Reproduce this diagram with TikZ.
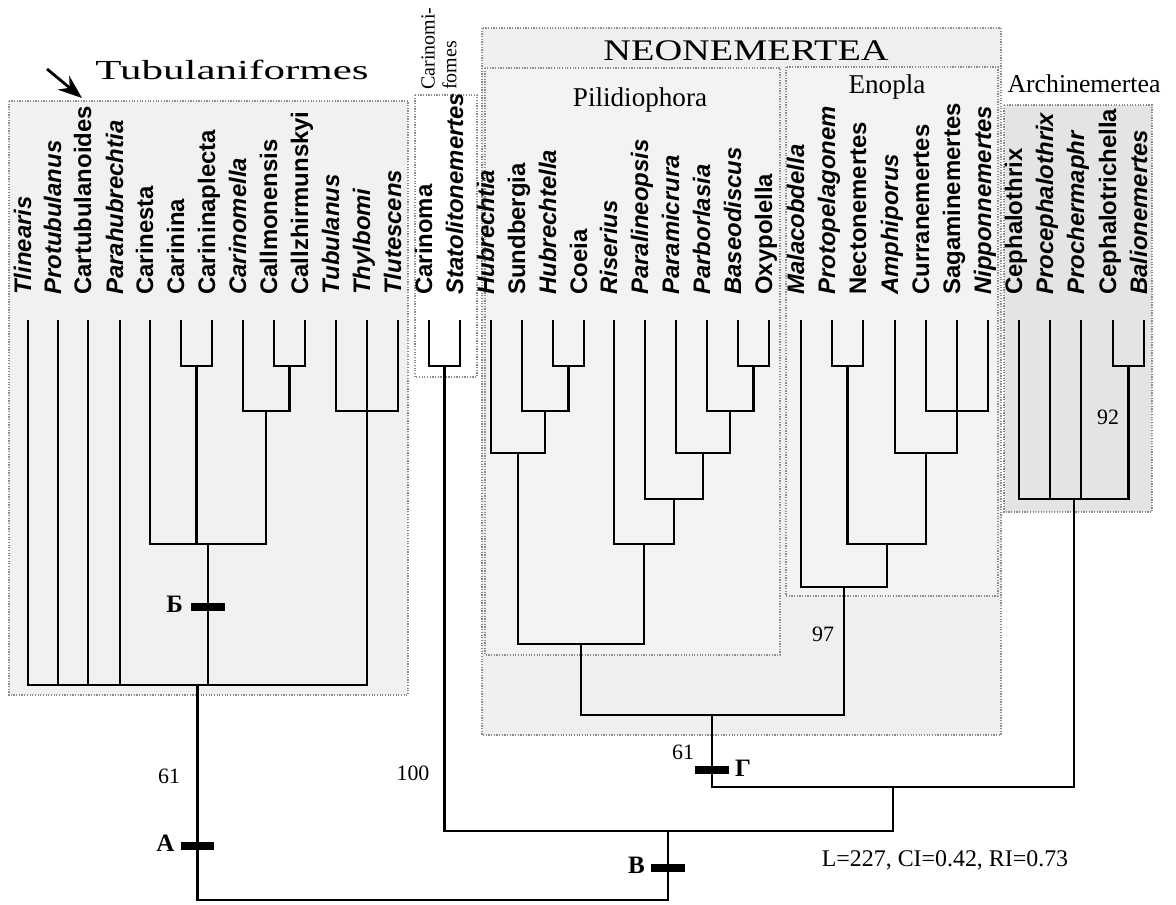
\documentclass[tikz,border=0pt]{standalone}
\usepackage{fontspec}
\setmainfont{Liberation Serif}
\setsansfont{Liberation Sans}
\usepackage{graphicx}
\usetikzlibrary{positioning,arrows.meta}

\definecolor{tubfill}{HTML}{F1F1F1}
\definecolor{neofill}{HTML}{EFEFEF}
\definecolor{subfill}{HTML}{F3F3F3}
\definecolor{arcfill}{HTML}{E4E4E4}
\definecolor{framegray}{HTML}{8C8C8C}

\begin{document}
\begin{tikzpicture}[
    x=0.025cm,y=-0.025cm,
    grpbox/.style={draw=framegray,densely dotted,line width=0.9pt},
    elbow/.style={draw,line width=2.1pt,to path={-| (\tikztotarget) \tikztonodes}},
    taxon/.style={rotate=90,anchor=mid west,inner sep=0pt,font=\sffamily\bfseries\itshape\fontsize{17}{18}\selectfont},
    taxonup/.style={taxon,font=\sffamily\bfseries\fontsize{17}{18}\selectfont},
    grptitle/.style={anchor=base,inner sep=0pt,font=\fontsize{19.3}{20}\selectfont},
    support/.style={inner sep=0pt,font=\fontsize{15.6}{16}\selectfont},
    apobar/.style={fill=black,inner sep=0pt,minimum width=0.83cm,minimum height=0.22cm},
    apolab/.style={inner sep=0pt,font=\bfseries\fontsize{17.8}{18}\selectfont}
  ]
  \useasboundingbox (0,0) rectangle (1176,904);

  % group frames
  \filldraw[grpbox,fill=tubfill] (9,101) rectangle (408,695);
  \filldraw[grpbox,fill=white] (415,95) rectangle (477,377);
  \filldraw[grpbox,fill=neofill] (482,28) rectangle (1001,735);
  \filldraw[grpbox,fill=subfill] (485,68) rectangle (780,655);
  \filldraw[grpbox,fill=subfill] (786,67) rectangle (998,596);
  \filldraw[grpbox,fill=arcfill] (1004,105) rectangle (1152,512);

  % group names
  \node[grptitle] (tubname) at (232,79) {\scalebox{1.56}[1]{\fontsize{19.6}{20}\selectfont Tubulaniformes}};
  \node[grptitle] (neoname) at (746,60) {\scalebox{1.28}[1]{\fontsize{21.3}{22}\selectfont NEONEMERTEA}};
  \node[grptitle] (pilname) at (640,106) {Pilidiophora};
  \node[grptitle] (enoname) at (887,93) {Enopla};
  \node[grptitle,font=\fontsize{18.3}{20}\selectfont] (arcname) at (1084,92) {Archinemertea};
  \node[rotate=90,anchor=west,align=left,inner sep=0pt,font=\fontsize{14.2}{15.6}\selectfont] (carname) at (439,90) {Carinomi-\\fomes};
  \coordinate (arrtail) at (47,69);
  \coordinate (arrtip) at (82,98);
  \draw[-{Stealth[length=0.6cm,width=0.45cm,inset=0.2cm]},line width=2pt] (arrtail) -- (arrtip);

  % leaves
  \node[taxon] (n0) at (28,295) {Tlinearis}; \coordinate (l0) at (28,320);
  \node[taxon] (n1) at (58,295) {Protubulanus}; \coordinate (l1) at (58,320);
  \node[taxonup] (n2) at (88,295) {Cartubulanoides}; \coordinate (l2) at (88,320);
  \node[taxon] (n3) at (120,295) {Parahubrechtia}; \coordinate (l3) at (120,320);
  \node[taxonup] (n4) at (150,295) {Carinesta}; \coordinate (l4) at (150,320);
  \node[taxonup] (n5) at (181,295) {Carinina}; \coordinate (l5) at (181,320);
  \node[taxonup] (n6) at (212,295) {Carininaplecta}; \coordinate (l6) at (212,320);
  \node[taxon] (n7) at (243,295) {Carinomella}; \coordinate (l7) at (243,320);
  \node[taxonup] (n8) at (274,295) {Callmonensis}; \coordinate (l8) at (274,320);
  \node[taxonup] (n9) at (305,295) {Callzhirmunskyi}; \coordinate (l9) at (305,320);
  \node[taxon] (n10) at (336,295) {Tubulanus}; \coordinate (l10) at (336,320);
  \node[taxon] (n11) at (367,295) {Thylbomi}; \coordinate (l11) at (367,320);
  \node[taxon] (n12) at (398,295) {Tlutescens}; \coordinate (l12) at (398,320);
  \node[taxonup] (n13) at (429,295) {Carinoma}; \coordinate (l13) at (429,320);
  \node[taxon] (n14) at (460,295) {Statolitonemertes}; \coordinate (l14) at (460,320);
  \node[taxon] (n15) at (491,295) {Hubrechtia}; \coordinate (l15) at (491,320);
  \node[taxonup] (n16) at (522,295) {Sundbergia}; \coordinate (l16) at (522,320);
  \node[taxon] (n17) at (553,295) {Hubrechtella}; \coordinate (l17) at (553,320);
  \node[taxonup] (n18) at (584,295) {Coeia}; \coordinate (l18) at (584,320);
  \node[taxon] (n19) at (614,295) {Riserius}; \coordinate (l19) at (614,320);
  \node[taxon] (n20) at (645,295) {Paralineopsis}; \coordinate (l20) at (645,320);
  \node[taxon] (n21) at (676,295) {Paramicrura}; \coordinate (l21) at (676,320);
  \node[taxon] (n22) at (707,295) {Parborlasia}; \coordinate (l22) at (707,320);
  \node[taxon] (n23) at (738,295) {Baseodiscus}; \coordinate (l23) at (738,320);
  \node[taxonup] (n24) at (769,295) {Oxypolella}; \coordinate (l24) at (769,320);
  \node[taxon] (n25) at (801,295) {Malacobdella}; \coordinate (l25) at (801,320);
  \node[taxon] (n26) at (832,295) {Protopelagonem}; \coordinate (l26) at (832,320);
  \node[taxonup] (n27) at (863,295) {Nectonemertes}; \coordinate (l27) at (863,320);
  \node[taxon] (n28) at (895,295) {Amphiporus}; \coordinate (l28) at (895,320);
  \node[taxonup] (n29) at (926,295) {Curranemertes}; \coordinate (l29) at (926,320);
  \node[taxonup] (n30) at (957,295) {Sagaminemertes}; \coordinate (l30) at (957,320);
  \node[taxon] (n31) at (988,295) {Nipponnemertes}; \coordinate (l31) at (988,320);
  \node[taxonup] (n32) at (1019,295) {Cephalothrix}; \coordinate (l32) at (1019,320);
  \node[taxon] (n33) at (1050,295) {Procephalothrix}; \coordinate (l33) at (1050,320);
  \node[taxon] (n34) at (1081,295) {Prochermaphr}; \coordinate (l34) at (1081,320);
  \node[taxonup] (n35) at (1113,295) {Cephalotrichella}; \coordinate (l35) at (1113,320);
  \node[taxon] (n36) at (1144,295) {Balionemertes}; \coordinate (l36) at (1144,320);

  % inner nodes
  \coordinate (tA) at (196.5,366); \coordinate (tB) at (289.5,366);
  \coordinate (tC) at (266,411); \coordinate (tD) at (208,544);
  \coordinate (tE) at (367,411); \coordinate (tub) at (197.5,685);
  \coordinate (car) at (444.5,366);
  \coordinate (pA) at (568.5,366); \coordinate (pB) at (545,411);
  \coordinate (pC) at (518,453); \coordinate (pD) at (753.5,366);
  \coordinate (pE) at (730,411); \coordinate (pF) at (703,453);
  \coordinate (pG) at (674,499); \coordinate (pH) at (644,544);
  \coordinate (pil) at (581,644);
  \coordinate (eA) at (847.5,366); \coordinate (eB) at (957,411);
  \coordinate (eC) at (926,453); \coordinate (eD) at (887,544);
  \coordinate (eno) at (844,587); \coordinate (neo) at (712,715);
  \coordinate (aA) at (1128.5,366); \coordinate (arc) at (1074,499);
  \coordinate (neoarc) at (893,787); \coordinate (carneo) at (668,831);
  \coordinate (root) at (433,900);

  % branches
  \path (tA) edge[elbow] (l5) edge[elbow] (l6)
        (tB) edge[elbow] (l8) edge[elbow] (l9)
        (tC) edge[elbow] (l7) edge[elbow] (tB)
        (tD) edge[elbow] (l4) edge[elbow] (tA) edge[elbow] (tC)
        (tE) edge[elbow] (l10) edge[elbow] (l11) edge[elbow] (l12)
        (tub) edge[elbow] (l0) edge[elbow] (l1) edge[elbow] (l2)
              edge[elbow] (l3) edge[elbow] (tD) edge[elbow] (tE);
  \path (car) edge[elbow] (l13) edge[elbow] (l14);
  \path (pA) edge[elbow] (l17) edge[elbow] (l18)
        (pB) edge[elbow] (l16) edge[elbow] (pA)
        (pC) edge[elbow] (l15) edge[elbow] (pB)
        (pD) edge[elbow] (l23) edge[elbow] (l24)
        (pE) edge[elbow] (l22) edge[elbow] (pD)
        (pF) edge[elbow] (l21) edge[elbow] (pE)
        (pG) edge[elbow] (l20) edge[elbow] (pF)
        (pH) edge[elbow] (l19) edge[elbow] (pG)
        (pil) edge[elbow] (pC) edge[elbow] (pH);
  \path (eA) edge[elbow] (l26) edge[elbow] (l27)
        (eB) edge[elbow] (l29) edge[elbow] (l30) edge[elbow] (l31)
        (eC) edge[elbow] (l28) edge[elbow] (eB)
        (eD) edge[elbow] (eA) edge[elbow] (eC)
        (eno) edge[elbow] (l25) edge[elbow] (eD)
        (neo) edge[elbow] (pil) edge[elbow] (eno);
  \path (aA) edge[elbow] (l35) edge[elbow] (l36)
        (arc) edge[elbow] (l32) edge[elbow] (l33) edge[elbow] (l34) edge[elbow] (aA)
        (neoarc) edge[elbow] (neo) edge[elbow] (arc)
        (carneo) edge[elbow] (car) edge[elbow] (neoarc)
        (root) edge[elbow] (tub) edge[elbow] (carneo);

  % synapomorphy bars
  \node[apobar] (barB) at (208,607) {};
  \node[apobar] (barA) at (197.5,846) {};
  \node[apobar] (barV) at (668,868) {};
  \node[apobar] (barG) at (712,770) {};
  \node[apolab,left=0.2cm of barB,yshift=2pt] (labB) {Б};
  \node[apolab,left=0.15cm of barA,yshift=2pt] (labA) {А};
  \node[apolab,left=0.15cm of barV,yshift=2pt] (labV) {В};
  \node[apolab,right=0.15cm of barG,yshift=1pt] (labG) {Г};

  % support values
  \node[support] (bs1) at (169,776) {61};
  \node[support] (bs2) at (413,773) {100};
  \node[support] (bs3) at (683,752) {61};
  \node[support] (bs4) at (823,634) {97};
  \node[support] (bs5) at (1108,417) {92};
  \node[anchor=base,inner sep=0pt,font=\fontsize{17}{18}\selectfont] (stats) at (945,866) {L=227, CI=0.42, RI=0.73};
\end{tikzpicture}
\end{document}
